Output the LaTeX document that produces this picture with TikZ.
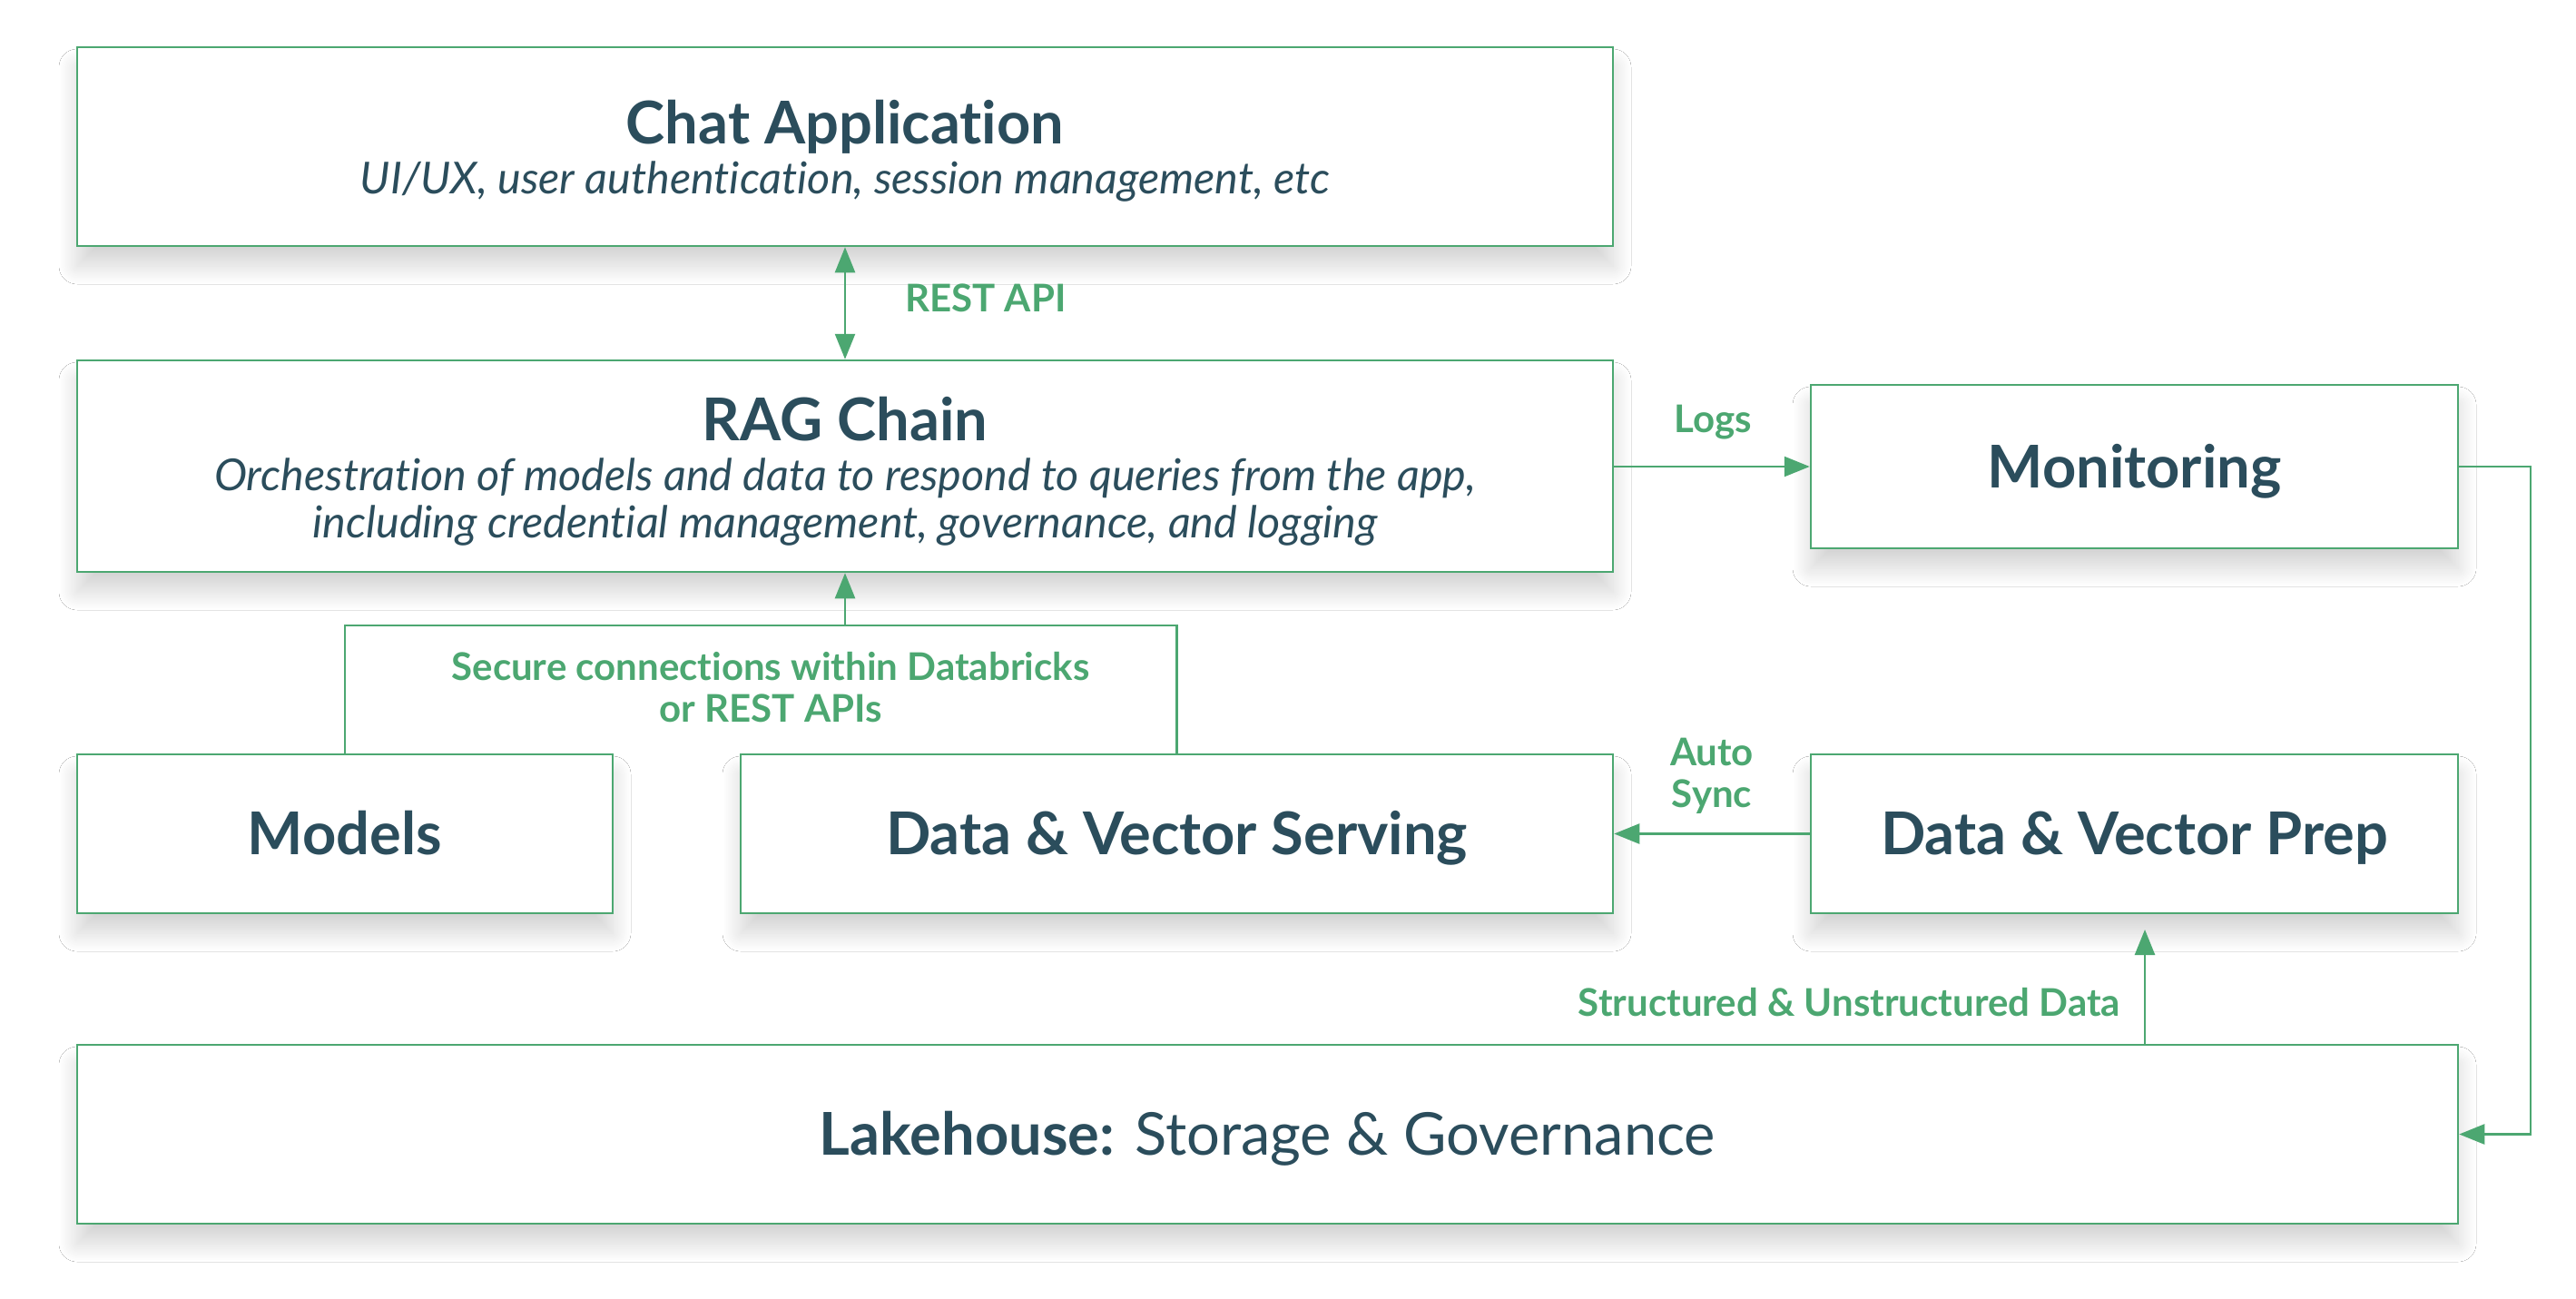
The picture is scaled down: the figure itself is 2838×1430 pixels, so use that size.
\documentclass[tikz,border=0pt]{standalone}
\usepackage{fontspec}
\setmainfont{Lato}[Ligatures={NoCommon}]
\usetikzlibrary{arrows.meta,shadows.blur}
\definecolor{dbgreen}{HTML}{4CA771}
\definecolor{dbnavy}{HTML}{2B4D5C}
\newcommand\dbttlfont{\fontsize{65}{72}\selectfont\upshape\bfseries}
\newcommand\dbregfont{\fontsize{65}{72}\selectfont\upshape\mdseries}
\newcommand\dbsubfont{\fontsize{48.5}{52}\selectfont\mdseries\itshape}
\newcommand\dblblfont{\fontsize{42}{46}\selectfont\bfseries}
\tikzset{
 box/.style={draw=dbgreen, line width=2.5pt, fill=white, text=dbnavy, align=center, inner sep=0pt,
   text height=46.5pt, text depth=0pt,
   blur shadow={shadow xshift=0pt, shadow yshift=-22pt, shadow blur radius=20pt, shadow blur steps=30, shadow opacity=17}},
 ttltxt/.style={text=dbnavy, font=\dbttlfont, inner sep=0pt, anchor=base},
 subtxt/.style={text=dbnavy, font=\dbsubfont, inner sep=0pt, anchor=base},
 link/.style={draw=dbgreen, line width=2.5pt, -{Triangle[length=28pt,width=22pt]}},
 biLink/.style={draw=dbgreen, line width=2.5pt, {Triangle[length=28pt,width=22pt]}-{Triangle[length=28pt,width=22pt]}},
 plainLink/.style={draw=dbgreen, line width=2.5pt},
 lbl/.style={text=dbgreen, font=\dblblfont, align=center, inner sep=0pt},
}
\begin{document}
\begin{tikzpicture}[x=1pt,y=-1pt]
\useasboundingbox (0,0) rectangle (2838,1430);
\fill[white] (0,0) rectangle (2838,1430);

\node[box, minimum width=1692pt, minimum height=219pt] (chat) at (931,161.5) {};
\node[ttltxt] (chatTitle) at (931,158) {Chat Application};
\node[subtxt] (chatSub) at (931,213) {UI/UX, user authentication, session management, etc};

\node[box, minimum width=1692pt, minimum height=233pt] (rag) at (931,513.5) {};
\node[ttltxt] (ragTitle) at (931,485) {RAG Chain};
\node[subtxt] (ragSubA) at (931,540) {Orchestration of models and data to respond to queries from the app,};
\node[subtxt] (ragSubB) at (931,592) {including credential management, governance, and logging};

\node[box, font=\dbttlfont, minimum width=713pt, minimum height=180pt] (mon) at (2351.5,514) {Monitoring};
\node[box, font=\dbttlfont, minimum width=590pt, minimum height=175pt] (models) at (380,918.5) {Models};
\node[box, font=\dbttlfont, minimum width=961pt, minimum height=175pt] (serv) at (1296.5,918.5) {Data \& Vector Serving};
\node[box, font=\dbttlfont, minimum width=713pt, minimum height=175pt] (prep) at (2351.5,918.5) {Data \& Vector Prep};
\node[box, font=\dbregfont, minimum width=2623pt, minimum height=197pt] (lake) at (1396.5,1249.5)
  {{\bfseries Lakehouse:} Storage \& Governance};

% connectors
\draw[biLink] (chat.south) -- (rag.north);
\node[lbl, anchor=west] (restlbl) at (997,328) {REST API};

\draw[link] (mon.west -| rag.east) -- (mon.west);
\node[lbl] (logslbl) at (1887,465) {Logs};

\coordinate (mr) at (2788,514);
\draw[link] (mon.east) -- (mr) -- (mr |- lake.east) -- (lake.east);

\draw[link] (prep.west) -- (serv.east);
\node[lbl] (synclbl) at (1886,855) {Auto\\Sync};

\coordinate (sx) at (2363,1024);
\draw[link] (sx |- lake.north) -- (sx);
\node[lbl, anchor=east] (structlbl) at (2336,1104) {Structured \& Unstructured Data};

\coordinate (bt) at (931,689);
\draw[plainLink] (models.north) -- (models.north |- bt) -- (serv.north |- bt) -- (serv.north);
\draw[link] (bt) -- (rag.south);
\node[lbl] (seclbl) at (849,757) {Secure connections within Databricks\\or REST APIs};
\end{tikzpicture}
\end{document}
